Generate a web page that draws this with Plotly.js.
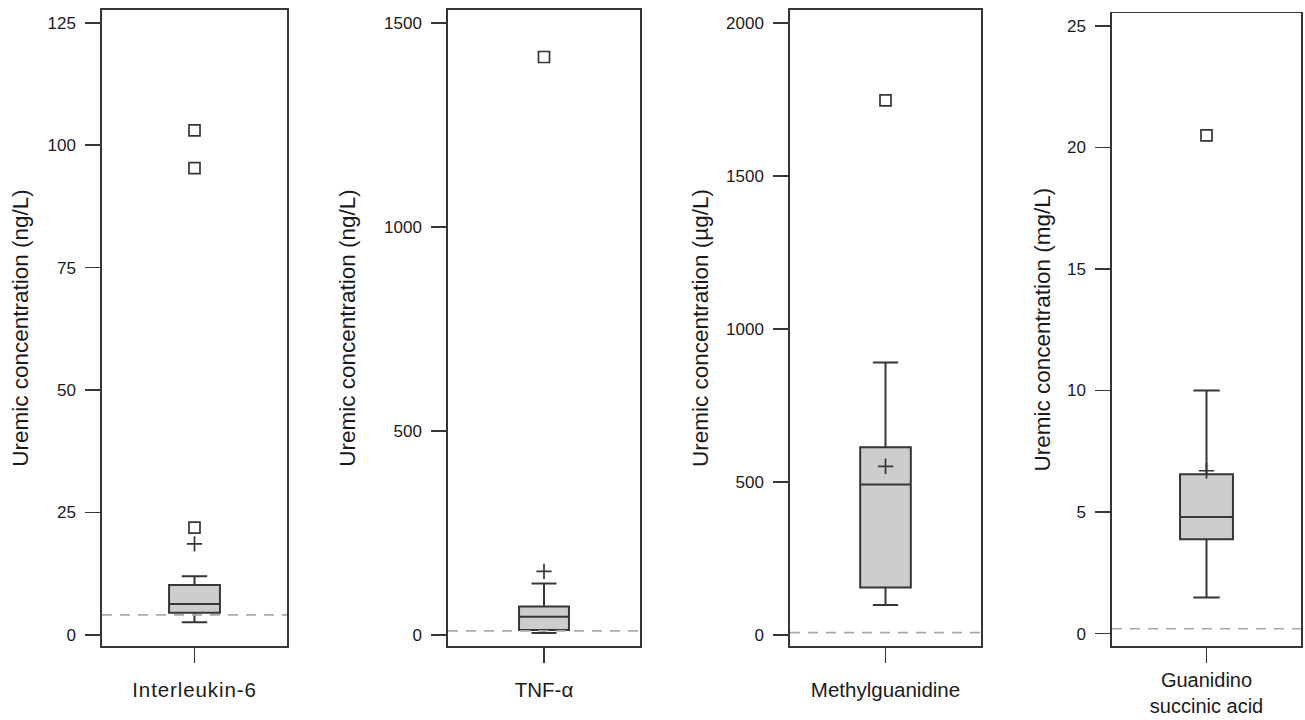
<!DOCTYPE html>
<html>
<head>
<meta charset="utf-8">
<script src="https://cdn.plot.ly/plotly-3.0.1.min.js"></script>
<style>
  html, body { margin: 0; padding: 0; background: #ffffff; }
  #chart { width: 1305px; height: 720px; }
  #chart .xtick text { letter-spacing: 0.9px; }
</style>
</head>
<body>
<div id="chart"></div>
<script>
// ---- Data ----
const categories = ['Interleukin-6', 'TNF-α', 'Methylguanidine', 'Guanidino<br>succinic acid'];
const yTitles = [
  'Uremic concentration (ng/L)',
  'Uremic concentration (ng/L)',
  'Uremic concentration (µg/L)',
  'Uremic concentration (mg/L)'
];
const lowerWhisker = [2.6, 5, 98, 1.49];
const q1Values     = [4.55, 12, 155, 3.88];
const medianValues = [6.3, 45, 492, 4.8];
const q3Values     = [10.2, 70, 613, 6.56];
const upperWhisker = [12.0, 126, 890, 10.0];
const meanValues   = [18.6, 156, 551, 6.7];
const outliers     = [[21.9, 95.3, 103.0], [1416], [1746], [20.5]];
const refLevels    = [4.1, 10, 8, 0.2];
const tickSteps    = [25, 500, 500, 5];

// ---- Layout geometry (pixels) ----
const W = 1305, H = 720;
const frames = [
  {l: 102, r: 287, t: 10, b: 646, yr: [-2.25, 127.59], boxW: 0.55, tStand: 13, xStand: 10, xFont: 20.5},
  {l: 448, r: 640, t: 10, b: 646, yr: [-26.9, 1531.1], boxW: 0.52, tStand: 22, xStand: 10, xFont: 20.5},
  {l: 790, r: 981, t: 10, b: 646, yr: [-35.9, 2041.5], boxW: 0.53, tStand: 11, xStand: 10, xFont: 20.5},
  {l: 1112, r: 1301, t: 13.3, b: 646, yr: [-0.51, 25.52], boxW: 0.56, tStand: 10, xStand: 0, xFont: 20}
];

const FONT = 'Liberation Sans, Arial, Helvetica, sans-serif';
const LINE = '#363636';
const traces = [];
const layout = {
  width: W, height: H,
  margin: {l: 0, r: 0, t: 0, b: 0},
  paper_bgcolor: '#ffffff',
  plot_bgcolor: '#ffffff',
  showlegend: false,
  font: {family: FONT, color: '#1a1a1a'},
  shapes: []
};

categories.forEach((cat, i) => {
  const f = frames[i];
  const n = i === 0 ? '' : String(i + 1);
  const xa = 'x' + n, ya = 'y' + n;

  traces.push({
    type: 'box',
    x: [0],
    q1: [q1Values[i]],
    median: [medianValues[i]],
    q3: [q3Values[i]],
    lowerfence: [lowerWhisker[i]],
    upperfence: [upperWhisker[i]],
    boxpoints: false,
    width: f.boxW,
    whiskerwidth: 0.5,
    fillcolor: '#cdcdcd',
    line: {color: LINE, width: 2},
    xaxis: xa, yaxis: ya,
    hoverinfo: 'skip'
  });
  traces.push({
    type: 'scatter', mode: 'markers',
    x: outliers[i].map(() => 0),
    y: outliers[i],
    marker: {symbol: 'square-open', size: 11, color: LINE, line: {width: 1.7, color: LINE}},
    xaxis: xa, yaxis: ya, hoverinfo: 'skip'
  });
  traces.push({
    type: 'scatter', mode: 'markers',
    x: [0], y: [meanValues[i]],
    marker: {symbol: 'cross-thin-open', size: 11, color: LINE, line: {width: 1.7, color: LINE}},
    xaxis: xa, yaxis: ya, hoverinfo: 'skip'
  });

  layout['xaxis' + n] = {
    domain: [f.l / W, f.r / W],
    range: [-1, 1],
    anchor: ya,
    fixedrange: true,
    showgrid: false, zeroline: false,
    showline: true, mirror: true, linecolor: LINE, linewidth: 1.7,
    ticks: 'outside', ticklen: 15, tickwidth: 1.7, tickcolor: LINE,
    tickvals: [0], ticktext: [cat],
    ticklabelstandoff: f.xStand,
    tickfont: {family: FONT, size: f.xFont, color: '#1a1a1a'}
  };
  layout['yaxis' + n] = {
    domain: [1 - f.b / H, 1 - f.t / H],
    range: f.yr,
    anchor: xa,
    fixedrange: true,
    showgrid: false, zeroline: false,
    showline: true, mirror: true, linecolor: LINE, linewidth: 1.7,
    ticks: 'outside', ticklen: 15, tickwidth: 1.7, tickcolor: LINE,
    tick0: 0, dtick: tickSteps[i],
    ticklabelstandoff: 6,
    tickfont: {family: FONT, size: 17, color: '#1a1a1a'},
    title: {text: yTitles[i], standoff: f.tStand, font: {family: FONT, size: 22.5, color: '#1a1a1a'}}
  };
  layout.shapes.push({
    type: 'line', xref: xa + ' domain', yref: ya,
    x0: 0, x1: 1, y0: refLevels[i], y1: refLevels[i],
    line: {color: '#a8a8a8', width: 1.7, dash: '10px,8px'}
  });
});

Plotly.newPlot('chart', traces, layout, {displayModeBar: false, staticPlot: true});
</script>
</body>
</html>
